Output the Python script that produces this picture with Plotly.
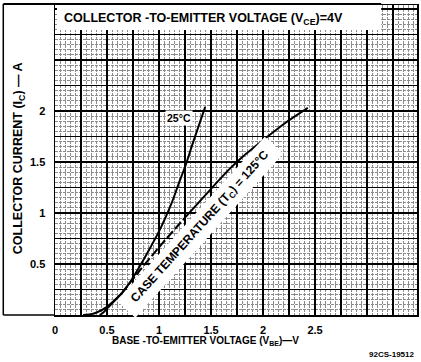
import plotly.graph_objects as go

# ---- data ----
vbe_25c = [0.43, 0.47, 0.505, 0.555, 0.63, 0.714, 0.81, 0.905, 0.99, 1.064, 1.13, 1.19, 1.26, 1.317, 1.38, 1.444]
ic_25c = [0.0, 0.03, 0.07, 0.12, 0.20, 0.31, 0.47, 0.64, 0.80, 0.96, 1.12, 1.29, 1.48, 1.66, 1.85, 2.04]

vbe_125c = [0.27, 0.33, 0.40, 0.50, 0.64, 0.81, 1.03, 1.254, 1.476, 1.667, 1.79, 2.02, 2.21, 2.43]
ic_125c = [0.0, 0.005, 0.025, 0.08, 0.21, 0.43, 0.70, 0.96, 1.21, 1.42, 1.54, 1.73, 1.88, 2.03]

x_tick_vals = [0, 0.25, 0.5, 0.75, 1.0, 1.25, 1.5, 1.75, 2.0, 2.25, 2.5, 2.75, 3.0, 3.25]
x_tick_text = ["0", "", "0.5", "", "1", "", "1.5", "", "2", "", "2.5", "", "", ""]
y_tick_vals = [0, 0.25, 0.5, 0.75, 1.0, 1.25, 1.5, 1.75, 2.0, 2.25, 2.5, 2.75, 3.0]
y_tick_text = ["", "", "0.5", "", "1", "", "1.5", "", "2", "", "", "", ""]

FONT = "Liberation Sans"
W, H = 421, 362
ML, MR, MT, MB = 55, 2, 5, 47
PW = W - ML - MR
PH = H - MT - MB


def px(xp):
    return (xp - ML) / PW


def py(yp):
    return (H - MB - yp) / PH


fig = go.Figure()

line_style = dict(color="black", width=2, shape="spline", smoothing=0.8)

fig.add_trace(go.Scatter(x=vbe_25c, y=ic_25c, mode="lines", line=line_style,
                         hoverinfo="skip", showlegend=False))
# 125 C curve: solid / dashed / solid parts of the same series
fig.add_trace(go.Scatter(x=vbe_125c[:5], y=ic_125c[:5], mode="lines", line=line_style,
                         hoverinfo="skip", showlegend=False))
fig.add_trace(go.Scatter(x=vbe_125c[4:8], y=ic_125c[4:8], mode="lines",
                         line=dict(line_style, dash="9px,3px"),
                         hoverinfo="skip", showlegend=False))
fig.add_trace(go.Scatter(x=vbe_125c[7:], y=ic_125c[7:], mode="lines", line=line_style,
                         hoverinfo="skip", showlegend=False))

grid_minor = dict(showgrid=True, gridcolor="#8c8c8c", gridwidth=1, griddash="3px,1px",
                  tickmode="linear", tick0=0, dtick=0.05, ticks="")

fig.update_xaxes(range=[0, PW / 104.6], tickmode="array", tickvals=x_tick_vals,
                 ticktext=x_tick_text, showgrid=True, gridcolor="black", gridwidth=1.3,
                 zeroline=False, showline=True, linecolor="black", linewidth=1.5,
                 mirror=True, ticks="", ticklabelstandoff=4,
                 tickfont=dict(family=FONT, size=11, color="black", weight="bold"),
                 minor=grid_minor)
fig.update_yaxes(range=[0, PH / 102.0], tickmode="array", tickvals=y_tick_vals,
                 ticktext=y_tick_text, showgrid=True, gridcolor="black", gridwidth=1.3,
                 zeroline=False, showline=True, linecolor="black", linewidth=1.5,
                 mirror=True, ticks="", ticklabelstandoff=6,
                 tickfont=dict(family=FONT, size=11, color="black", weight="bold"),
                 minor=grid_minor)

shapes = [
    # white title box on top of the grid
    dict(type="rect", xref="paper", yref="paper", x0=px(57), x1=px(383), y0=py(30), y1=py(5),
         fillcolor="white", line=dict(width=0), layer="above"),
    # outer frame of the left strip and top line
    dict(type="line", xref="paper", yref="paper", x0=px(3), x1=px(383), y0=py(4), y1=py(4),
         line=dict(color="black", width=2), layer="above"),
    dict(type="line", xref="paper", yref="paper", x0=px(3), x1=px(3), y0=py(4), y1=py(315),
         line=dict(color="black", width=1.5), layer="above"),
    dict(type="line", xref="paper", yref="paper", x0=px(3), x1=px(55), y0=py(315), y1=py(315),
         line=dict(color="black", width=1.5), layer="above"),
]
fig.update_layout(shapes=shapes)

bold = dict(family=FONT, color="black", weight="bold")
annotations = [
    dict(text="COLLECTOR -TO-EMITTER VOLTAGE (V<sub>CE</sub>)=4V", xref="paper", yref="paper",
         x=px(62), y=py(19), xanchor="left", yanchor="middle", showarrow=False,
         font=dict(bold, size=12.5)),
    dict(text="COLLECTOR CURRENT (I<sub>C</sub>) — A", xref="paper", yref="paper",
         x=px(19), y=py(158), xanchor="center", yanchor="middle", textangle=-90,
         showarrow=False, font=dict(bold, size=12.5)),
    dict(text="BASE -TO-EMITTER VOLTAGE (V<sub>BE</sub>)—V", xref="paper", yref="paper",
         x=px(206), y=py(341), xanchor="center", yanchor="middle", showarrow=False,
         font=dict(bold, size=10)),
    dict(text="92CS-19512", xref="paper", yref="paper", x=px(418), y=py(355),
         xanchor="right", yanchor="middle", showarrow=False,
         font=dict(bold, size=8)),
    dict(text="25°C", xref="paper", yref="paper", x=px(180), y=py(118),
         xanchor="center", yanchor="middle", showarrow=False, bgcolor="white", borderpad=1,
         font=dict(bold, size=10.5)),
    dict(text="  CASE TEMPERATURE (T<sub>C</sub>) = 125°C  ", xref="paper", yref="paper",
         x=px(201), y=py(227), xanchor="center", yanchor="middle", showarrow=False,
         textangle=-48, bgcolor="white", borderpad=4,
         font=dict(bold, size=12)),
]
fig.update_layout(annotations=annotations)

fig.update_layout(width=W, height=H, margin=dict(l=ML, r=MR, t=MT, b=MB),
                  paper_bgcolor="white", plot_bgcolor="white", showlegend=False)

fig.write_html("out.html",
               config={"staticPlot": True, "displayModeBar": False},
               post_script="document.body.style.margin='0';document.body.style.overflow='hidden';")
